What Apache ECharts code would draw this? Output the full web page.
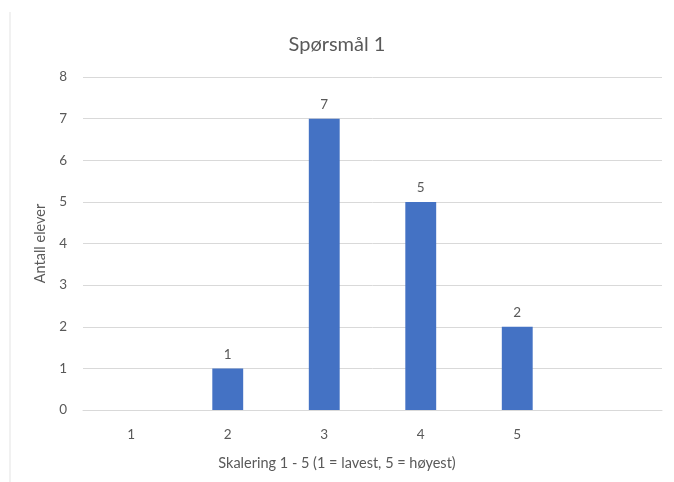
<!DOCTYPE html>
<html><head><meta charset="utf-8">
<script src="https://cdn.jsdelivr.net/npm/echarts@6/dist/echarts.min.js"></script>
<style>html,body{margin:0;padding:0;background:#fff}#c{width:674px;height:482px}</style>
</head><body><div id="c"></div>
<script>
const categories = ['1','2','3','4','5',''];
const values = [null, 1, 7, 5, 2, null];
const yTicks = {min:0, max:8, interval:1};
const titleText = 'Spørsmål 1';
const xName = 'Skalering 1 - 5 (1 = lavest, 5 = høyest)';
const yName = 'Antall elever';

const FONT = 'Lato';
const TXT = '#595959';
const chart = echarts.init(document.getElementById('c'));
chart.setOption({
  animation:false,
  backgroundColor:'#fff',
  title:[
    {text:titleText,left:'center',top:30,textStyle:{fontFamily:FONT,fontSize:20,fontWeight:'normal',color:TXT}},
    {text:xName,left:'center',top:451,textStyle:{fontFamily:FONT,fontSize:14.5,fontWeight:'normal',color:TXT}}
  ],
  grid:{left:83,right:12,top:77,bottom:72},
  xAxis:{type:'category',data:categories,
    axisLine:{lineStyle:{color:'#d9d9d9'}},axisTick:{show:false},
    axisLabel:{color:TXT,fontFamily:FONT,fontSize:13.5,margin:18}},
  yAxis:{type:'value',min:yTicks.min,max:yTicks.max,interval:yTicks.interval,
    axisLine:{show:false},axisTick:{show:false},
    splitLine:{lineStyle:{color:'#d9d9d9'}},
    axisLabel:{color:TXT,fontFamily:FONT,fontSize:13.5,margin:16},
    name:yName,nameLocation:'middle',nameGap:30,
    nameTextStyle:{color:TXT,fontFamily:FONT,fontSize:14.5}},
  series:[{type:'bar',data:values,barWidth:'32%',
    itemStyle:{color:'#4472C4'},
    label:{show:true,position:'top',distance:7,color:TXT,fontFamily:FONT,fontSize:13.5}}],
  graphic:[{type:'line',shape:{x1:10,y1:12,x2:10,y2:482},style:{stroke:'#e3e3e3',lineWidth:1}}]
});
</script></body></html>
